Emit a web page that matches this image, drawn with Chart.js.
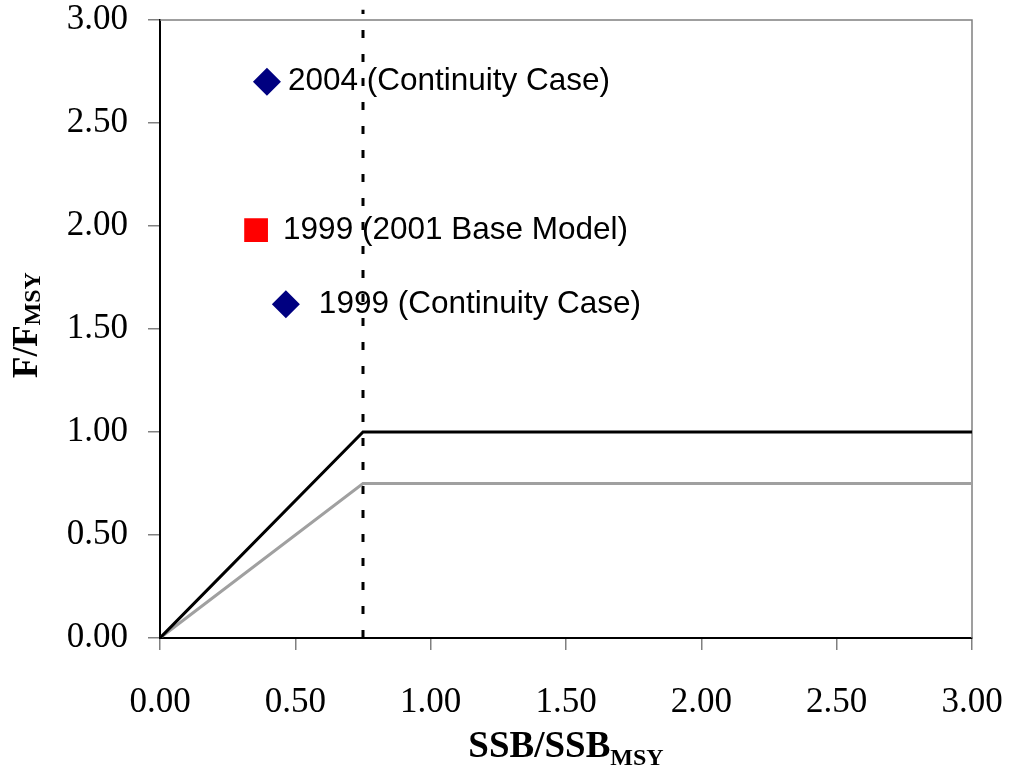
<!DOCTYPE html>
<html lang="en">
<head>
    <meta charset="UTF-8">
    <title>F/FMSY vs SSB/SSBMSY</title>
    <script src="https://cdn.jsdelivr.net/npm/chart.js"></script>
    <style>
        body { margin: 0; background: #fff; }
        #wrap { width: 1012px; height: 772px; }
    </style>
</head>
<body>
    <div id="wrap"><canvas id="phaseChart"></canvas></div>

    <script>
        // control rule lines
        const ruleSsb = [0, 0.75, 3.0];
        const ruleLimit = [0, 1.0, 1.0];
        const ruleTarget = [0, 0.75, 0.75];

        // vertical threshold (dotted)
        const thresholdSsb = [0.75, 0.75];
        const thresholdF = [0, 3.05];

        // stock status points
        const caseLabels = ['2004 (Continuity Case)', '1999 (2001 Base Model)', '1999 (Continuity Case)'];
        const caseSsb = [0.395, 0.355, 0.465];
        const caseF = [2.70, 1.98, 1.62];

        const axisTicks = [0, 0.5, 1.0, 1.5, 2.0, 2.5, 3.0];

        const toXY = (xs, ys) => xs.map((x, i) => ({ x: x, y: ys[i] }));

        // text next to each point (Excel style data labels)
        const pointLabelPlugin = {
            id: 'pointLabels',
            afterDatasetsDraw(chart, args, opts) {
                const ctx = chart.ctx;
                ctx.save();
                ctx.font = '31.5px "Liberation Sans", Arial, sans-serif';
                ctx.fillStyle = '#000';
                ctx.textAlign = 'left';
                ctx.textBaseline = 'middle';
                opts.items.forEach(item => {
                    const pt = chart.getDatasetMeta(item.dataset).data[0];
                    ctx.fillText(caseLabels[item.dataset - 3], pt.x + item.dx, pt.y);
                });
                ctx.restore();
            }
        };

        // gray frame on top and right, plus axis titles with subscripts
        const framePlugin = {
            id: 'frameAndTitles',
            beforeDatasetsDraw(chart) {
                const { ctx, chartArea: a } = chart;
                ctx.save();
                ctx.strokeStyle = '#808080';
                ctx.lineWidth = 1.5;
                ctx.beginPath();
                ctx.moveTo(a.left, a.top);
                ctx.lineTo(a.right, a.top);
                ctx.lineTo(a.right, a.bottom);
                ctx.stroke();
                ctx.restore();
            },
            afterDraw(chart) {
                const { ctx, chartArea: a } = chart;
                const serif = '"Liberation Serif", "Times New Roman", serif';

                function subTitle(main, sub, cx, baseY, bigSize, smallSize, drop) {
                    const big = 'bold ' + bigSize + 'px ' + serif;
                    const small = 'bold ' + smallSize + 'px ' + serif;
                    ctx.font = big;
                    const w1 = ctx.measureText(main).width;
                    ctx.font = small;
                    const w2 = ctx.measureText(sub).width;
                    const x = cx - (w1 + w2) / 2;
                    ctx.textAlign = 'left';
                    ctx.textBaseline = 'alphabetic';
                    ctx.font = big;
                    ctx.fillText(main, x, baseY);
                    ctx.font = small;
                    ctx.fillText(sub, x + w1, baseY + drop);
                }

                ctx.save();
                ctx.fillStyle = '#000';
                subTitle('SSB/SSB', 'MSY', (a.left + a.right) / 2, 757, 37, 24, 8);
                ctx.translate(37, 325);
                ctx.rotate(-Math.PI / 2);
                subTitle('F/F', 'MSY', 0, 0, 35, 24, 3);
                ctx.restore();
            }
        };

        const tickFont = { family: '"Liberation Serif", "Times New Roman", serif', size: 35 };

        // fixed axis box sizes, no label overflow padding
        function fixBox(s, w, h) {
            if (w) s.width = w;
            if (h) s.height = h;
            s.paddingLeft = 0;
            s.paddingRight = 0;
            s.paddingTop = 0;
            s.paddingBottom = 0;
        }

        new Chart(document.getElementById('phaseChart'), {
            type: 'scatter',
            data: {
                datasets: [
                    {
                        label: 'Limit',
                        data: toXY(ruleSsb, ruleLimit),
                        showLine: true,
                        borderColor: '#000',
                        borderWidth: 3,
                        pointRadius: 0
                    },
                    {
                        label: 'Target',
                        data: toXY(ruleSsb, ruleTarget),
                        showLine: true,
                        borderColor: '#a0a0a0',
                        borderWidth: 3,
                        pointRadius: 0
                    },
                    {
                        label: 'Threshold',
                        data: toXY(thresholdSsb, thresholdF),
                        showLine: true,
                        borderColor: '#000',
                        borderWidth: 3,
                        borderDash: [8, 16],
                        pointRadius: 0,
                        clip: false
                    },
                    {
                        label: caseLabels[0],
                        data: [{ x: caseSsb[0], y: caseF[0] }],
                        pointStyle: 'rectRot',
                        pointRadius: 14,
                        backgroundColor: '#000080',
                        borderColor: '#000080',
                        borderWidth: 0
                    },
                    {
                        label: caseLabels[1],
                        data: [{ x: caseSsb[1], y: caseF[1] }],
                        pointStyle: 'rect',
                        pointRadius: 16.8,
                        backgroundColor: '#ff0000',
                        borderColor: '#ff0000',
                        borderWidth: 0
                    },
                    {
                        label: caseLabels[2],
                        data: [{ x: caseSsb[2], y: caseF[2] }],
                        pointStyle: 'rectRot',
                        pointRadius: 14,
                        backgroundColor: '#000080',
                        borderColor: '#000080',
                        borderWidth: 0
                    }
                ]
            },
            options: {
                responsive: true,
                maintainAspectRatio: false,
                animation: false,
                layout: { padding: { left: 0, right: 40, top: 20, bottom: 0 } },
                plugins: {
                    legend: { display: false },
                    tooltip: { enabled: false },
                    pointLabels: {
                        items: [
                            { dataset: 3, dx: 21 },
                            { dataset: 4, dx: 27 },
                            { dataset: 5, dx: 33 }
                        ]
                    }
                },
                scales: {
                    x: {
                        type: 'linear',
                        min: 0,
                        max: 3,
                        afterFit: s => fixBox(s, 0, 134),
                        afterBuildTicks: s => { s.ticks = axisTicks.map(v => ({ value: v })); },
                        ticks: {
                            font: tickFont,
                            color: '#000',
                            padding: 32,
                            maxRotation: 0,
                            callback: v => v.toFixed(2)
                        },
                        grid: { drawOnChartArea: false, tickLength: 12, color: '#808080', lineWidth: 1.5 },
                        border: { color: '#000', width: 2 }
                    },
                    y: {
                        type: 'linear',
                        min: 0,
                        max: 3,
                        afterFit: s => fixBox(s, 160, 0),
                        afterBuildTicks: s => { s.ticks = axisTicks.map(v => ({ value: v })); },
                        ticks: {
                            font: tickFont,
                            color: '#000',
                            padding: 20,
                            callback: v => v.toFixed(2)
                        },
                        grid: { drawOnChartArea: false, tickLength: 12, color: '#808080', lineWidth: 1.5 },
                        border: { color: '#000', width: 2 }
                    }
                }
            },
            plugins: [pointLabelPlugin, framePlugin]
        });
    </script>
</body>
</html>
